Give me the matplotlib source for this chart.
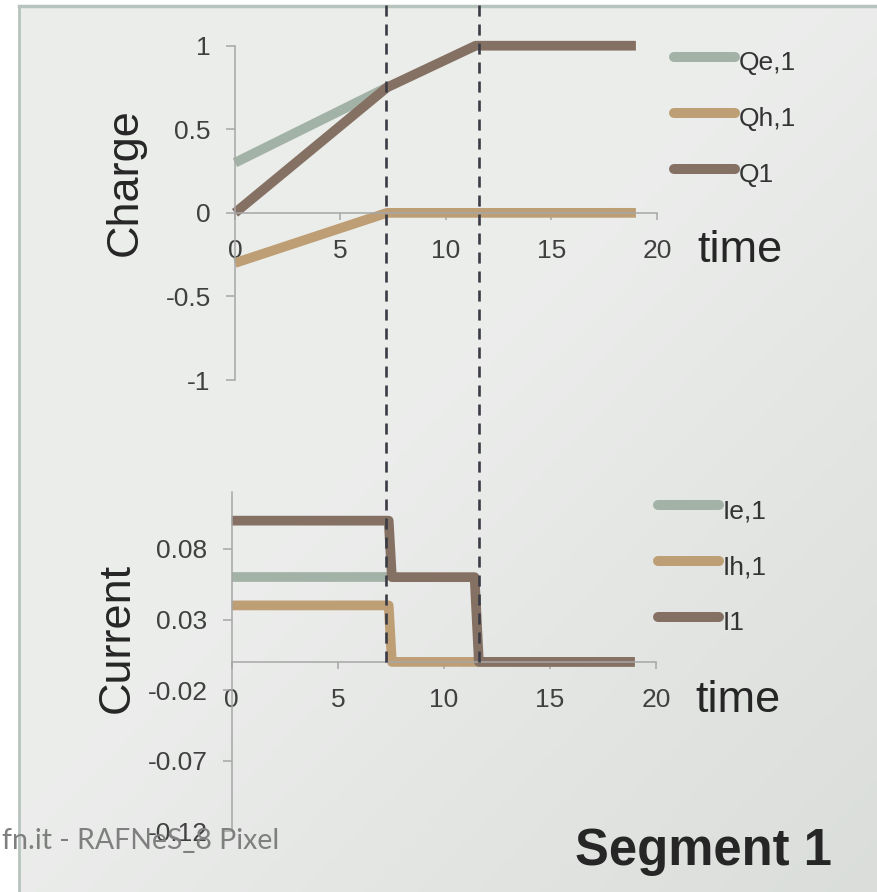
import numpy as np
import matplotlib
matplotlib.use("Agg")
import matplotlib.pyplot as plt
from matplotlib.lines import Line2D
import matplotlib.transforms as mtransforms

# ---------------- data ----------------
charge_labels = ["Qe,1", "Qh,1", "Q1"]
t_Qe = [0, 7.2]
Qe = [0.3, 0.75]
t_Qh = [0, 7.2, 19]
Qh = [-0.3, 0.0, 0.0]
t_Q1 = [0, 7.2, 11.4, 19]
Q1 = [0.0, 0.75, 1.0, 1.0]

current_labels = ["Ie,1", "Ih,1", "I1"]
t_Ie = [0, 7.3]
Ie = [0.06, 0.06]
t_Ih = [0, 7.4, 7.55, 19]
Ih = [0.04, 0.04, 0.0, 0.0]
t_I1 = [0, 7.4, 7.55, 11.45, 11.65, 19]
I1 = [0.10, 0.10, 0.06, 0.06, 0.0, 0.0]

event_times = [7.15, 11.55]

charge_yticks = [-1, -0.5, 0, 0.5, 1]
charge_yticklabels = ["-1", "-0.5", "0", "0.5", "1"]
current_yticks = [-0.12, -0.07, -0.02, 0.03, 0.08]
current_yticklabels = ["-0.12", "-0.07", "-0.02", "0.03", "0.08"]
time_ticks = [0, 5, 10, 15, 20]

colors = ["#A3B2A7", "#BE9E74", "#857163"]

# ---------------- figure ----------------
W, H = 878, 892
fig = plt.figure(figsize=(W / 100, H / 100), dpi=100, facecolor="white")
plt.rcParams["font.family"] = ["Liberation Sans", "DejaVu Sans"]


def fx(x):
    return x / W


def fy(y):
    return 1 - y / H


# background gradient panel
bg = fig.add_axes([fx(19), 0, 1 - fx(19), fy(6)], zorder=-10)
nx, ny = 200, 200
xx, yy = np.meshgrid(np.linspace(0, 1, nx), np.linspace(0, 1, ny))
tt = np.clip((xx + yy - 0.9) / 1.1, 0, 1)
c0 = np.array([0.925, 0.930, 0.925])
c1 = np.array([0.855, 0.868, 0.855])
img = c0[None, None, :] * (1 - tt[..., None]) + c1[None, None, :] * tt[..., None]
bg.imshow(img, aspect="auto", extent=[0, 1, 0, 1], origin="upper")
bg.set_axis_off()
# frame border
fig.add_artist(Line2D([fx(19), fx(19)], [0, fy(6)], color="#B7C3BD", lw=2.0))
fig.add_artist(Line2D([fx(19), 1], [fy(6), fy(6)], color="#B7C3BD", lw=2.5))

tick_color = "#A6A6A6"
label_color = "#404040"


def style_axes(ax, xlim, ylim, yticks, yticklabels):
    ax.set_facecolor("none")
    ax.set_xlim(*xlim)
    ax.set_ylim(*ylim)
    for s in ["top", "right"]:
        ax.spines[s].set_visible(False)
    ax.spines["bottom"].set_position(("data", 0))
    for s in ["left", "bottom"]:
        ax.spines[s].set_color(tick_color)
        ax.spines[s].set_linewidth(1.1)
    ax.set_xticks(time_ticks)
    ax.set_xticklabels([str(t) for t in time_ticks])
    ax.set_yticks(yticks)
    ax.set_yticklabels(yticklabels)
    ax.tick_params(axis="y", direction="out", length=6.5, width=1.1, color=tick_color,
                   labelsize=19, labelcolor=label_color, pad=11)
    ax.tick_params(axis="x", direction="out", length=5, width=1.1, color=tick_color,
                   labelsize=19, labelcolor=label_color, pad=14)


# top axes: charge
ax1 = fig.add_axes([fx(235), fy(380), fx(657) - fx(235), fy(45.7) - fy(380)])
style_axes(ax1, (0, 20), (-1, 1), charge_yticks, charge_yticklabels)
for t, v, c in zip([t_Qe, t_Qh, t_Q1], [Qe, Qh, Q1], colors):
    ax1.plot(t, v, color=c, lw=7, solid_capstyle="butt", solid_joinstyle="round", clip_on=False)

# bottom axes: current
ax2 = fig.add_axes([fx(231.7), fy(831.4), fx(656) - fx(231.7), fy(492.4) - fy(831.4)])
style_axes(ax2, (0, 20), (-0.12, 0.12), current_yticks, current_yticklabels)
for t, v, c in zip([t_Ie, t_Ih, t_I1], [Ie, Ih, I1], colors):
    ax2.plot(t, v, color=c, lw=7, solid_capstyle="butt", solid_joinstyle="round", clip_on=False)

# dashed event lines spanning both panels
trans = mtransforms.blended_transform_factory(ax1.transData, fig.transFigure)
for te in event_times:
    ln = Line2D([te, te], [fy(5), fy(664)], transform=trans, color="#3A3B45", lw=1.9,
                linestyle=(0, (4.2, 3.0)), zorder=20)
    fig.add_artist(ln)

# axis labels
fig.text(fx(125), fy(182), "Charge", rotation=90, ha="center", va="center",
         fontsize=32.5, color="#262626")
fig.text(fx(117.5), fy(637.5), "Current", rotation=90, ha="center", va="center",
         fontsize=32.5, color="#262626")
fig.text(fx(697), fy(262), "time", ha="left", va="baseline", fontsize=32.5, color="#262626")
fig.text(fx(695), fy(712), "time", ha="left", va="baseline", fontsize=32.5, color="#262626")

# legends (drawn manually to match placement)
for i, (lab, c) in enumerate(zip(charge_labels, colors)):
    y = 57 + 56 * i
    fig.add_artist(Line2D([fx(674), fx(735)], [fy(y), fy(y)], color=c, lw=7.2,
                          solid_capstyle="round"))
    fig.text(fx(739), fy(y + 13), lab, ha="left", va="baseline", fontsize=19, color="#333333")
for i, (lab, c) in enumerate(zip(current_labels, colors)):
    y = 505 + 56 * i
    fig.add_artist(Line2D([fx(658), fx(719)], [fy(y), fy(y)], color=c, lw=7.2,
                          solid_capstyle="round"))
    fig.text(fx(723), fy(y + 13), lab, ha="left", va="baseline", fontsize=19, color="#333333")

# title and footer
fig.text(fx(703.5), fy(865), "Segment 1", ha="center", va="baseline", fontsize=36.5,
         fontweight="bold", color="#262626")
fig.text(fx(279), fy(849), "fn.it - RAFNeS_8 Pixel", ha="right", va="baseline",
         fontsize=20.5, color="#7F7F7F", family=["Lato", "DejaVu Sans"], zorder=30)

fig.savefig("out.png", dpi=100, facecolor="white")
